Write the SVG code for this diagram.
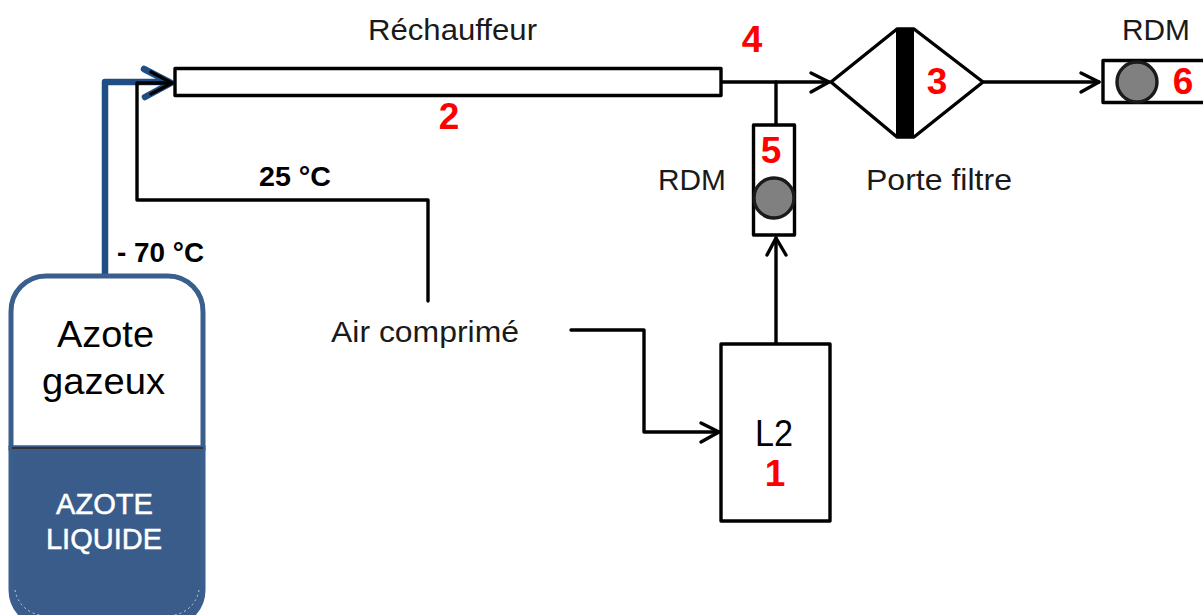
<svg xmlns="http://www.w3.org/2000/svg" width="1203" height="615" viewBox="0 0 1203 615">
<style>
.l{fill:none;stroke:#000;stroke-width:3.400;stroke-linejoin:round;stroke-linecap:round}
.b{fill:#fff;stroke:#000;stroke-width:3.400;stroke-linejoin:round}
.c{fill:#808080;stroke:#1a1a1a;stroke-width:3.400}
.t{font-family:"Liberation Sans",Arial,sans-serif;font-size:29px;fill:#1a1a1a}
.h{font-family:"Liberation Sans",Arial,sans-serif;font-size:36px;fill:#000}
.w{font-family:"Liberation Sans",Arial,sans-serif;font-size:29px;fill:#fff;stroke:#fff;stroke-width:.5}
.k{font-family:"Liberation Sans",Arial,sans-serif;font-size:28px;font-weight:bold;fill:#000}
.n{font-family:"Liberation Sans",Arial,sans-serif;font-size:37px;font-weight:bold;fill:#f00;text-anchor:middle}
</style>
<rect width="1203" height="615" fill="#fff"/>
<g id="connectors">
<path d="M105 276V82H170" fill="none" stroke="#1f4e85" stroke-width="6.500" stroke-linejoin="round"/>
<path d="M144 69L171 83L145 97" fill="none" stroke="#1f4e85" stroke-width="6.500" stroke-linecap="round" stroke-linejoin="round"/>
<path class="l" d="M428 301V200H137V83H171"/>
<path class="l" d="M151 72L172 83L151 94"/>
<path class="l" d="M721 82H829"/>
<path class="l" d="M811 73L829 82L811 92"/>
<path class="l" d="M776 82V124"/>
<path class="l" d="M984 82H1099"/>
<path class="l" d="M1081 73L1099 82L1081 92"/>
<path class="l" d="M776 343V238"/>
<path class="l" d="M767 255L776 238L786 255"/>
<path class="l" d="M571 330H644V432H719"/>
<path class="l" d="M701 423L719 432L701 442"/>
</g>
<g id="tank">
<path d="M11 448V312A35 35 0 0 1 46 276H168A35 35 0 0 1 203 312V448Z" fill="#fff" stroke="#3a5f8c" stroke-width="5"/>
<path d="M11 448H203V590A35 35 0 0 1 168 625H46A35 35 0 0 1 11 590Z" fill="#3a5c8a" stroke="#3a5f8c" stroke-width="5"/>
<path d="M12 448H203" stroke="#333" stroke-width="2"/>
<path d="M15 590A30 30 0 0 0 40 615M199 590A30 30 0 0 1 174 615" fill="none" stroke="#c8d2de" stroke-width="1" stroke-dasharray="2 3"/>
<text class="h" x="57" y="347" textLength="97" lengthAdjust="spacingAndGlyphs">Azote</text>
<text class="h" x="42" y="394" textLength="123" lengthAdjust="spacingAndGlyphs">gazeux</text>
<text class="w" x="56" y="514" textLength="97" lengthAdjust="spacingAndGlyphs">AZOTE</text>
<text class="w" x="46" y="549" textLength="116" lengthAdjust="spacingAndGlyphs">LIQUIDE</text>
<text class="k" x="117" y="262" textLength="87" lengthAdjust="spacingAndGlyphs">- 70 °C</text>
</g>
<g id="rechauffeur">
<rect class="b" x="175" y="68.500" width="546" height="27"/>
<text class="t" x="368" y="40" textLength="169" lengthAdjust="spacingAndGlyphs">Réchauffeur</text>
<text class="n" x="449" y="129">2</text>
</g>
<g id="label-4"><text class="n" x="752" y="52">4</text></g>
<g id="air"><text class="t" x="331" y="342" textLength="188" lengthAdjust="spacingAndGlyphs">Air comprimé</text>
<text class="k" x="259" y="186" textLength="72" lengthAdjust="spacingAndGlyphs">25 °C</text></g>
<g id="l2">
<rect class="b" x="721" y="344" width="109" height="177"/>
<text class="h" x="755" y="446" textLength="38" lengthAdjust="spacingAndGlyphs">L2</text>
<text class="n" x="775" y="486">1</text>
</g>
<g id="rdm5">
<rect class="b" x="753.500" y="125" width="41" height="110"/>
<circle class="c" cx="774" cy="198" r="20"/>
<text class="n" x="771" y="163">5</text>
<text class="t" x="658" y="190" textLength="68" lengthAdjust="spacingAndGlyphs">RDM</text>
</g>
<g id="filtre">
<path class="b" d="M831 82L897 29H914L983 82L914 137H897Z"/>
<rect x="896" y="28" width="18" height="110" fill="#000"/>
<text class="n" x="937" y="94">3</text>
<text class="t" x="866" y="190" textLength="146" lengthAdjust="spacingAndGlyphs">Porte filtre</text>
</g>
<g id="rdm6">
<rect class="b" x="1103" y="60.500" width="110" height="42"/>
<circle class="c" cx="1137" cy="82" r="20"/>
<text class="n" x="1183" y="94">6</text>
<text class="t" x="1122" y="40" textLength="68" lengthAdjust="spacingAndGlyphs">RDM</text>
</g>
</svg>
